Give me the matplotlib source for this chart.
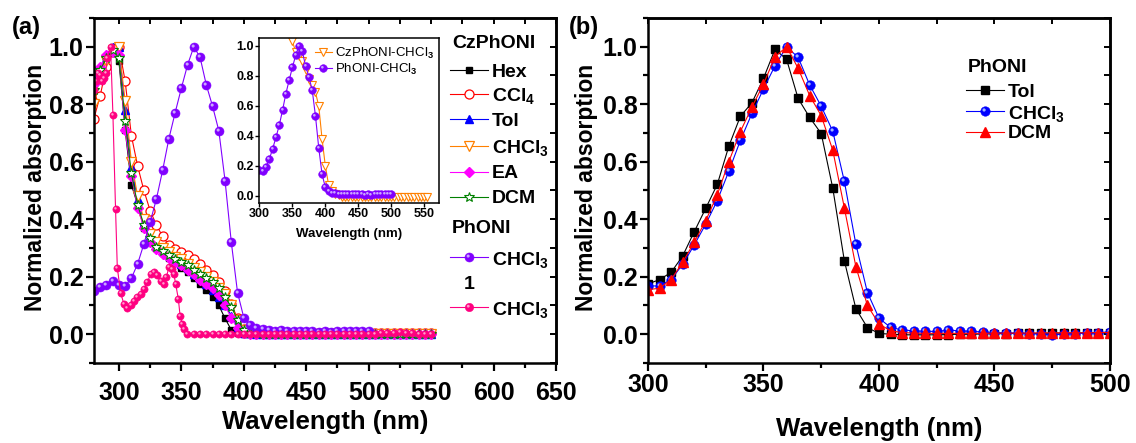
import numpy as np
import matplotlib
matplotlib.use("Agg")
import matplotlib.pyplot as plt
from matplotlib.path import Path
from matplotlib.ticker import MultipleLocator

plt.rcParams["font.family"] = ["Liberation Sans", "DejaVu Sans"]
plt.rcParams["font.weight"] = "bold"
plt.rcParams["axes.labelweight"] = "bold"
plt.rcParams["mathtext.fontset"] = "custom"
plt.rcParams["mathtext.rm"] = "Liberation Sans:bold"
plt.rcParams["mathtext.default"] = "rm"

# ---------------- panel (a): CzPhONI in six solvents, PhONI and 1 in CHCl3
cz_nm = np.arange(280, 551, 5)
cz_hex = [0.83, 0.90, 0.96, 1.00, 0.95, 0.71, 0.52, 0.45, 0.37, 0.325, 0.30, 0.283, 0.265,
          0.248, 0.232, 0.215, 0.195, 0.176, 0.155, 0.13, 0.10, 0.055, 0.015, 0.003, 0.0,
          0.0, 0.0, 0.001, 0.0, 0.0, 0.0, 0.001, 0.0, 0.0, 0.0, 0.0, 0.001, 0.0, 0.0, 0.0,
          0.0, 0.0, 0.001, 0.0, 0.0, 0.0, 0.0, 0.0, 0.0, 0.0, 0.0, 0.0, 0.0, 0.0, 0.0]
cz_ccl4 = [0.75, 0.83, 0.93, 0.98, 1.00, 0.88, 0.69, 0.585, 0.50, 0.43, 0.38, 0.34, 0.31,
           0.295, 0.285, 0.275, 0.26, 0.245, 0.225, 0.205, 0.18, 0.15, 0.105, 0.055, 0.018,
           0.006, 0.005, 0.004, 0.004, 0.005, 0.004, 0.004, 0.005, 0.004, 0.004, 0.004, 0.005,
           0.004, 0.004, 0.005, 0.004, 0.004, 0.004, 0.005, 0.004, 0.004, 0.005, 0.004, 0.006,
           0.005, 0.004, 0.004, 0.005, 0.004, 0.004]
cz_tol = [0.88, 0.93, 0.97, 1.00, 1.00, 0.78, 0.58, 0.47, 0.39, 0.34, 0.31, 0.29, 0.275,
          0.26, 0.245, 0.23, 0.21, 0.195, 0.175, 0.155, 0.13, 0.10, 0.065, 0.025, 0.006,
          0.003, 0.002, 0.002, 0.002, 0.002, 0.002, 0.002, 0.002, 0.002, 0.002, 0.002, 0.002,
          0.002, 0.002, 0.002, 0.002, 0.002, 0.002, 0.002, 0.002, 0.002, 0.002, 0.002, 0.002,
          0.002, 0.002, 0.002, 0.002, 0.002, 0.002]
cz_chcl3 = [0.80, 0.90, 0.95, 0.99, 1.00, 0.81, 0.60, 0.48, 0.40, 0.35, 0.32, 0.30, 0.285,
            0.27, 0.26, 0.245, 0.23, 0.215, 0.20, 0.18, 0.16, 0.14, 0.10, 0.05, 0.015,
            0.004, 0.002, 0.001, 0.001, 0.0, 0.001, 0.0, 0.0, 0.001, 0.0, 0.0, 0.001, 0.0,
            0.0, 0.001, 0.0, 0.0, 0.0, 0.001, 0.0, 0.0, 0.0, 0.001, 0.0, 0.0, 0.001, 0.0,
            0.0, 0.0, 0.0]
cz_ea = [0.87, 0.93, 0.97, 0.98, 0.97, 0.71, 0.55, 0.44, 0.37, 0.32, 0.295, 0.28, 0.265,
         0.25, 0.24, 0.225, 0.21, 0.19, 0.175, 0.16, 0.135, 0.10, 0.055, 0.02, 0.005,
         0.001, 0.0, 0.0, 0.0, 0.0, 0.0, 0.0, 0.0, 0.0, 0.0, 0.0, 0.0, 0.0, 0.0, 0.0, 0.0,
         0.0, 0.0, 0.0, 0.0, 0.0, 0.0, 0.0, 0.0, 0.0, 0.0, 0.0, 0.0, 0.0, 0.0]
cz_dcm = [0.85, 0.92, 0.96, 0.99, 0.96, 0.74, 0.56, 0.45, 0.38, 0.335, 0.305, 0.29, 0.275,
          0.26, 0.25, 0.24, 0.225, 0.21, 0.195, 0.18, 0.16, 0.13, 0.095, 0.05, 0.015,
          0.004, 0.003, 0.002, 0.002, 0.002, 0.002, 0.002, 0.002, 0.002, 0.002, 0.002, 0.002,
          0.002, 0.002, 0.002, 0.002, 0.002, 0.002, 0.002, 0.002, 0.002, 0.002, 0.002, 0.002,
          0.002, 0.002, 0.002, 0.002, 0.002, 0.002]

phoni_nm = np.arange(280, 501, 5)
phoni_chcl3 = [0.15, 0.163, 0.172, 0.186, 0.17, 0.168, 0.195, 0.245, 0.314, 0.39, 0.47,
               0.57, 0.68, 0.77, 0.856, 0.937, 1.0, 0.963, 0.867, 0.793, 0.708, 0.534,
               0.32, 0.145, 0.058, 0.031, 0.022, 0.018, 0.014, 0.012, 0.015, 0.01, 0.012,
               0.01, 0.01, 0.01, 0.008, 0.01, 0.008, 0.01, 0.012, 0.01, 0.01, 0.01, 0.012]

cpd1_nm = [280, 282, 283.5, 285, 286.5, 288, 289.5, 290.6, 293.3, 295.2, 297.3, 298.7,
           301.3, 304, 306.7, 309.4, 312, 314.7, 317.4, 320, 322.7, 325.4, 328, 330.7,
           333.4, 336, 338, 340, 342.8, 344, 345.5, 347.6, 349, 350.8, 352, 354.8,
           360, 365, 370, 375, 380, 385, 390, 395, 400, 405, 410, 415, 420, 425, 430,
           435, 440, 445, 450, 455, 460, 465, 470, 475, 480, 485, 490, 495, 500, 505,
           510, 515, 520, 525, 530, 535, 540, 545, 550]
cpd1_chcl3 = [0.85, 0.88, 0.91, 0.90, 0.88, 0.89, 0.91, 0.96, 1.0, 0.763, 0.435, 0.232,
              0.145, 0.105, 0.09, 0.10, 0.116, 0.128, 0.14, 0.157, 0.18, 0.209, 0.215,
              0.206, 0.186, 0.174, 0.198, 0.233, 0.227, 0.209, 0.174, 0.122, 0.064,
              0.035, 0.017, 0.002, 0.0, 0.0, 0.0, 0.0, 0.0, 0.0, 0.0, 0.0, 0.0, 0.0,
              0.0, 0.0, 0.0, 0.0, 0.0, 0.0, 0.0, 0.0, 0.0, 0.0, 0.0, 0.0, 0.0, 0.0,
              0.0, 0.0, 0.0, 0.0, 0.0, 0.002, 0.003, 0.004, 0.006, 0.009, 0.006,
              0.003, 0.002, 0.001, 0.0]

# inset: CzPhONI vs PhONI in CHCl3
inset_cz_nm = np.arange(345, 556, 5)
inset_cz_chcl3 = [1.10, 1.03, 0.96, 0.93, 0.90, 0.84, 0.78, 0.74, 0.69, 0.60, 0.38, 0.20,
                  0.073, 0.03, 0.012, 0.004, -0.004, -0.004, -0.004, -0.004, -0.004,
                  -0.004, -0.004, -0.004, -0.004, -0.004, -0.004, -0.004, -0.004, -0.004,
                  -0.004, -0.004, -0.004, -0.004, -0.004, -0.004, -0.004, -0.004, -0.004,
                  -0.004, -0.004, -0.004, -0.004]

# ---------------- panel (b): PhONI in three solvents
b_nm = np.arange(300, 501, 5)
b_tol = [0.175, 0.19, 0.215, 0.272, 0.356, 0.438, 0.521, 0.654, 0.758, 0.805, 0.89, 0.991,
         0.956, 0.82, 0.754, 0.698, 0.508, 0.256, 0.089, 0.023, 0.003, 0.0, -0.002, -0.002,
         -0.002, -0.002, -0.001, 0.0, 0.0, 0.001, 0.002, 0.002, 0.003, 0.003, 0.003, 0.004,
         0.004, 0.004, 0.005, 0.005, 0.005]
b_chcl3 = [0.168, 0.168, 0.19, 0.243, 0.31, 0.383, 0.465, 0.567, 0.674, 0.768, 0.853, 0.934,
           1.0, 0.963, 0.867, 0.793, 0.706, 0.532, 0.313, 0.145, 0.056, 0.024, 0.015, 0.012,
           0.01, 0.01, 0.014, 0.012, 0.01, 0.008, 0.006, 0.005, 0.004, 0.002, 0.0, -0.002,
           0.0, 0.002, 0.004, 0.006, 0.008]
b_dcm = [0.155, 0.16, 0.19, 0.25, 0.32, 0.395, 0.485, 0.60, 0.705, 0.79, 0.87, 0.965, 1.0,
         0.925, 0.83, 0.76, 0.64, 0.44, 0.235, 0.10, 0.036, 0.012, 0.006, 0.004, 0.003,
         0.003, 0.003, 0.003, 0.003, 0.003, 0.004, 0.004, 0.004, 0.004, 0.005, 0.005, 0.005,
         0.005, 0.005, 0.006, 0.006]

BLACK, RED, BLUE = "#000000", "#FF0000", "#0000FF"
ORANGE, MAGENTA, GREEN = "#FF8000", "#FF00FF", "#008000"
PURPLE, PINK = "#8000FF", "#FF0080"


def _highlight_path():
    # small off-centre disc; the two bare MOVETO points fix the scale to a unit circle
    spot = Path.circle(center=(-0.3, 0.32), radius=0.34)
    verts = np.vstack([[[-1.0, -1.0], [1.0, 1.0]], spot.vertices])
    codes = [Path.MOVETO, Path.MOVETO] + list(spot.codes)
    return Path(verts, codes)


HIGHLIGHT = _highlight_path()

STYLES = {
    "hex": dict(color=BLACK, marker="s", ms=5.0, mfc=BLACK, mec=BLACK),
    "ccl4": dict(color=RED, marker="o", ms=6.5, mfc="white", mec=RED, mew=0.9),
    "tol": dict(color=BLUE, marker="^", ms=5.8, mfc=BLUE, mec=BLUE),
    "chcl3": dict(color=ORANGE, marker="v", ms=6.5, mfc="white", mec=ORANGE, mew=0.9),
    "ea": dict(color=MAGENTA, marker="D", ms=5.0, mfc=MAGENTA, mec=MAGENTA),
    "dcm": dict(color=GREEN, marker="*", ms=7.5, mfc="white", mec=GREEN, mew=0.8),
}
B_TOL = dict(color=BLACK, marker="s", ms=6.0, mfc=BLACK, mec=BLACK)
B_DCM = dict(color=RED, marker="^", ms=7.0, mfc=RED, mec=RED)


def line(ax, x, y, style, lw=0.8, **kw):
    ax.plot(x, y, lw=lw, **style, **kw)


def sphere(ax, x, y, color, light, ms, lw=0.8, **kw):
    ax.plot(x, y, color=color, lw=lw, marker="o", ms=ms, mfc=color, mec=color, mew=0.4, **kw)
    ax.plot(x, y, ls="none", marker=HIGHLIGHT, ms=ms, mfc=light, mec="none", **kw)


def key(ax, x0, x1, y, style=None, sphere_args=None):
    xs, ys = [x0, (x0 + x1) / 2, x1], [y, y, y]
    kw = dict(transform=ax.transAxes, clip_on=False, markevery=[1])
    if sphere_args:
        sphere(ax, xs, ys, *sphere_args, **kw)
    else:
        ax.plot(xs, ys, lw=0.8, **style, **kw)


def style_axes(ax, xmajor, xminor, label_pad_x):
    for s in ax.spines.values():
        s.set_linewidth(1.8)
    ax.xaxis.set_major_locator(MultipleLocator(xmajor))
    ax.xaxis.set_minor_locator(MultipleLocator(xminor))
    ax.yaxis.set_major_locator(MultipleLocator(0.2))
    ax.yaxis.set_minor_locator(MultipleLocator(0.1))
    ax.tick_params(which="both", direction="out", width=1.6, top=False, right=False)
    ax.tick_params(which="major", length=6, labelsize=18)
    ax.tick_params(which="minor", length=3.5)
    ax.tick_params(axis="x", pad=label_pad_x)
    ax.tick_params(axis="y", pad=1.5)
    ax.yaxis.set_major_formatter(plt.FormatStrFormatter("%.1f"))
    # inward ticks on the top and right frame
    top = ax.secondary_xaxis("top")
    top.xaxis.set_major_locator(MultipleLocator(xmajor))
    top.xaxis.set_minor_locator(MultipleLocator(xminor))
    top.tick_params(which="both", direction="in", width=1.4, length=4, labeltop=False)
    top.spines["top"].set_linewidth(1.8)
    right = ax.secondary_yaxis("right")
    right.yaxis.set_major_locator(MultipleLocator(0.2))
    right.yaxis.set_minor_locator(MultipleLocator(0.1))
    right.tick_params(which="both", direction="in", width=1.4, length=4, labelright=False)
    right.spines["right"].set_linewidth(1.8)


fig = plt.figure(figsize=(11.36, 4.43), dpi=100)
ax_a = fig.add_axes([0.0827, 0.1806, 0.4067, 0.7788])
ax_b = fig.add_axes([0.5704, 0.1806, 0.4067, 0.7788])

# ---- panel (a)
line(ax_a, cz_nm, cz_hex, STYLES["hex"])
line(ax_a, cz_nm, cz_ccl4, STYLES["ccl4"])
line(ax_a, cz_nm, cz_tol, STYLES["tol"])
line(ax_a, cz_nm, cz_chcl3, STYLES["chcl3"])
line(ax_a, cz_nm, cz_ea, STYLES["ea"])
line(ax_a, cz_nm, cz_dcm, STYLES["dcm"])
sphere(ax_a, phoni_nm, phoni_chcl3, PURPLE, "#C9A6FF", 6.5)
sphere(ax_a, cpd1_nm, cpd1_chcl3, PINK, "#FF9CCB", 5.2)

ax_a.set_xlim(280, 650)
ax_a.set_ylim(-0.1, 1.1)
style_axes(ax_a, 50, 25, 7)
ax_a.set_xlabel("Wavelength (nm)", fontsize=18.5)
ax_a.xaxis.set_label_coords(0.5, -0.136)
ax_a.xaxis.label.set_va("top")
ax_a.set_ylabel("Normalized absorption", fontsize=16.5)
ax_a.yaxis.set_label_coords(-0.102, 0.51)

# legend of panel (a), laid out by hand with group headers
tr = ax_a.transAxes
kx0, kx1, tx = 0.771, 0.853, 0.861
ax_a.text(0.775, 0.931, "CzPhONI", transform=tr, fontsize=14, va="center_baseline")
rows_a = [
    ("Hex", STYLES["hex"], 0.849),
    ("CCl$_4$", STYLES["ccl4"], 0.780),
    ("Tol", STYLES["tol"], 0.707),
    ("CHCl$_3$", STYLES["chcl3"], 0.629),
    ("EA", STYLES["ea"], 0.554),
    ("DCM", STYLES["dcm"], 0.482),
]
for label, st, y in rows_a:
    key(ax_a, kx0, kx1, y, style=st)
    ax_a.text(tx, y, label, transform=tr, fontsize=14, va="center_baseline")
ax_a.text(0.775, 0.395, "PhONI", transform=tr, fontsize=14, va="center_baseline")
key(ax_a, kx0, kx1, 0.307, sphere_args=(PURPLE, "#C9A6FF", 6.5))
ax_a.text(tx, 0.307, "CHCl$_3$", transform=tr, fontsize=14, va="center_baseline")
ax_a.text(0.812, 0.232, "1", transform=tr, fontsize=14, va="center_baseline", ha="center")
key(ax_a, kx0, kx1, 0.162, sphere_args=(PINK, "#FF9CCB", 6.0))
ax_a.text(tx, 0.162, "CHCl$_3$", transform=tr, fontsize=14, va="center_baseline")

# ---- inset of panel (a)
ax_in = fig.add_axes([0.2284, 0.5424, 0.1583, 0.3711])
ax_in.set_zorder(5)
ax_in.set_facecolor("white")
IN_CZ = dict(color=ORANGE, marker="v", ms=5.5, mfc="white", mec=ORANGE, mew=0.8)
line(ax_in, inset_cz_nm, inset_cz_chcl3, IN_CZ)
sphere(ax_in, phoni_nm, phoni_chcl3, PURPLE, "#C9A6FF", 5.5)
ax_in.set_xlim(300, 573)
ax_in.set_ylim(-0.045, 1.05)
for s in ax_in.spines.values():
    s.set_linewidth(1.1)
ax_in.xaxis.set_major_locator(MultipleLocator(50))
ax_in.yaxis.set_major_locator(MultipleLocator(0.2))
ax_in.yaxis.set_major_formatter(plt.FormatStrFormatter("%.1f"))
ax_in.tick_params(direction="out", length=3, width=1.0, labelsize=9, pad=1)
ax_in.set_xlabel("Wavelength (nm)", fontsize=9.5)
ax_in.xaxis.set_label_coords(0.5, -0.154)
ax_in.xaxis.label.set_va("top")
itr = ax_in.transAxes
key(ax_in, 0.309, 0.402, 0.919, style=IN_CZ)
ax_in.text(0.42, 0.919, "CzPhONI-CHCl$_3$", transform=itr, fontsize=9.5, fontweight="normal",
           va="center_baseline")
key(ax_in, 0.309, 0.402, 0.821, sphere_args=(PURPLE, "#C9A6FF", 5.5))
ax_in.text(0.42, 0.821, "PhONI-CHCl$_3$", transform=itr, fontsize=9.5, fontweight="normal",
           va="center_baseline")

# ---- panel (b)
line(ax_b, b_nm, b_tol, B_TOL)
sphere(ax_b, b_nm, b_chcl3, BLUE, "#9FB6FF", 6.8)
line(ax_b, b_nm, b_dcm, B_DCM)

ax_b.set_xlim(300, 500)
ax_b.set_ylim(-0.1, 1.1)
style_axes(ax_b, 50, 25, 1)
ax_b.set_xlabel("Wavelength (nm)", fontsize=18.5)
ax_b.xaxis.set_label_coords(0.5, -0.157)
ax_b.xaxis.label.set_va("top")
ax_b.set_ylabel("Normalized absorption", fontsize=16.5)
ax_b.yaxis.set_label_coords(-0.108, 0.51)

btr = ax_b.transAxes
bx0, bx1, btx = 0.688, 0.771, 0.779
ax_b.text(0.693, 0.861, "PhONI", transform=btr, fontsize=14, va="center_baseline")
key(ax_b, bx0, bx1, 0.791, style=B_TOL)
ax_b.text(btx, 0.791, "Tol", transform=btr, fontsize=14, va="center_baseline")
key(ax_b, bx0, bx1, 0.730, sphere_args=(BLUE, "#9FB6FF", 6.8))
ax_b.text(btx, 0.730, "CHCl$_3$", transform=btr, fontsize=14, va="center_baseline")
key(ax_b, bx0, bx1, 0.670, style=B_DCM)
ax_b.text(btx, 0.670, "DCM", transform=btr, fontsize=14, va="center_baseline")

fig.text(0.0103, 0.937, "(a)", fontsize=17, va="center")
fig.text(0.5005, 0.937, "(b)", fontsize=17, va="center")

fig.savefig("out.png", dpi=100)
